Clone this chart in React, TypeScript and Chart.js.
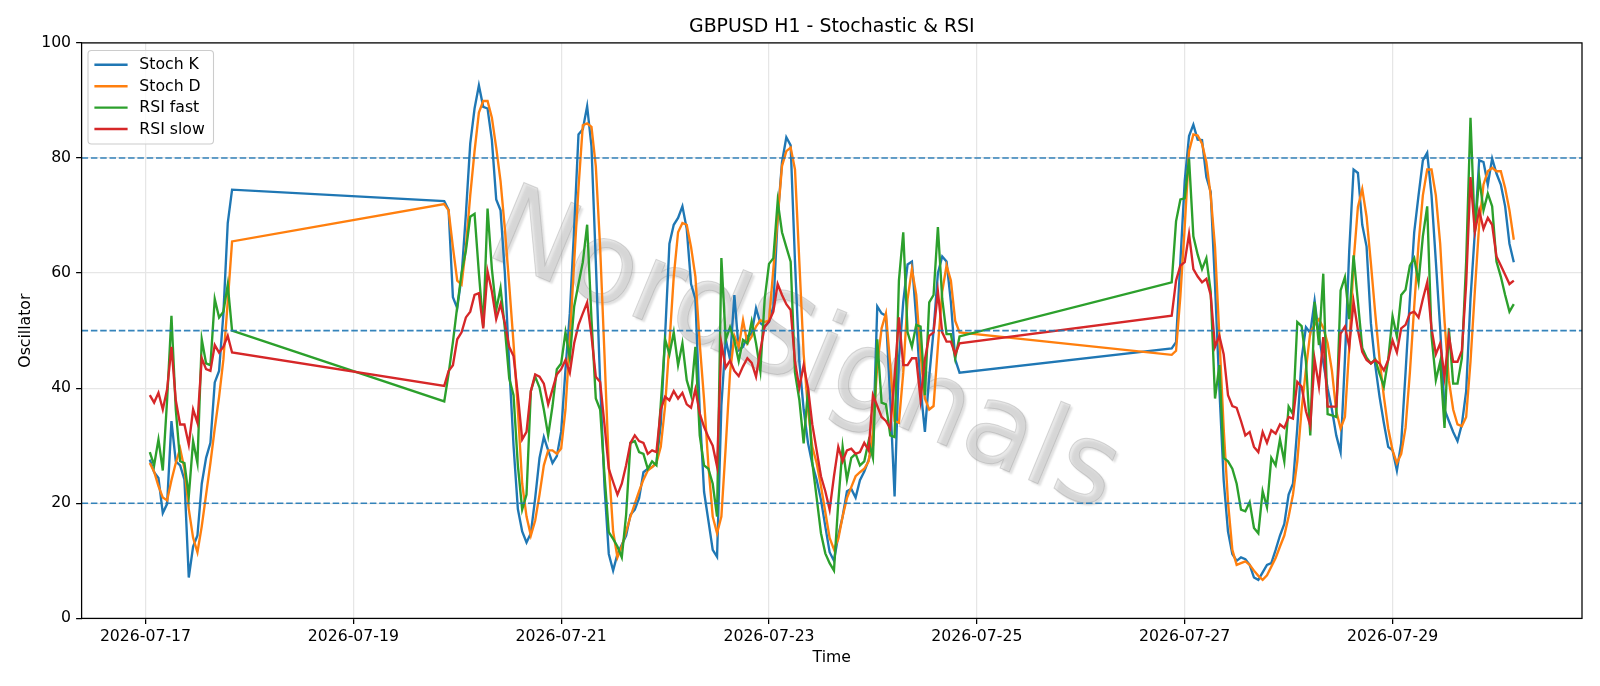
import React, { useEffect, useRef } from 'react';
import { Chart, registerables } from 'chart.js';

Chart.register(...registerables);

const TITLE = 'GBPUSD H1 - Stochastic & RSI';
const X_LABEL = 'Time';
const Y_LABEL = 'Oscillator';
const WATERMARK = 'NordSignals';
const ORIGIN = '2026-07-17 00:00';

// Hourly sessions (start time, number of hourly bars)
const SESSION_STARTS = ['2026-07-17 01:00', '2026-07-19 21:00', '2026-07-26 21:00'];
const SESSION_LENGTHS = [20, 120, 80];

const STOCH_K = [
  27.6, 25.4, 24.4, 18.3, 19.9, 34.3, 27.3, 26.6, 24.1, 7.1, 12.5, 14.4, 23.4, 27.9, 30.5, 41, 43, 53, 68.7, 74.5,
  72.5, 71, 55.8, 53.9, 59.4, 70.3, 82.5, 88.6, 92.6, 88.9, 88.6, 83.1, 72.8, 70.9, 60, 44, 30, 19, 15.1, 13.2, 14.8, 20.9, 27.9, 31.5, 29.2, 27, 28.2, 32.4, 43.3, 53, 67.7,
  84.1, 85, 89, 82, 62, 41, 23, 11.2, 8.3, 11.2, 12.8, 14.4, 18, 18.9, 20.9, 25.4, 26, 26.3, 27, 33.7, 49.1, 65.1, 68.4, 69.6, 71.6, 67.7, 58.1, 55.5,
  36, 22, 17, 11.9, 10.7, 37, 48.5, 45, 56.2, 46.6, 47.2, 49, 49.5, 53.9, 51.3, 50.7, 51.5, 54.2, 69.6, 79.3, 83.6, 82.2, 62, 44.6, 36.3, 30.5, 26.8, 24.1, 20.6, 16,
  11.5, 10, 14.4, 17.7, 22.1, 22.5, 21, 24, 25.5, 27.5, 30, 54.2, 53, 52.6, 38, 21.2, 45, 55, 61.5, 62, 52, 40, 32.4, 42, 50, 60, 62.9, 62, 55, 45, 42.7,
  46.9, 48, 62, 76, 83.8, 85.8, 83.2, 83.1, 76.7, 74.1, 58, 40, 24, 15.1, 11.2, 10, 10.6, 10.3, 9.3, 7.1, 6.7, 8, 9.3, 9.6, 11.9, 14.4,
  16.4, 21.5, 23.4, 33.1, 45.2, 50.6, 49.6, 55.2, 49.1, 44.5, 40, 36.3, 31.8, 28.9, 45, 64, 78, 77.4, 68.4, 64.6, 51.3, 44, 38.5, 33.9, 29.8, 29.2, 25.7,
  30.5, 42.7, 55.5, 67.1, 73.5, 79.6, 80.9, 73.5, 62, 50.4, 36.3, 34.3, 32.4, 30.8, 33.7, 39.5, 55.5, 67.1, 79.6, 79.3, 75.4, 79.9, 77.3, 75.4, 71.6, 65.1, 61.9,
];

const STOCH_D = [
  27, 25.5, 23, 21, 20.5, 24, 27, 29.5, 26, 19, 14, 11.5, 16, 21.5, 27, 33, 38.5, 45, 55, 65.5,
  72, 70.9, 64.5, 58.7, 58, 64.5, 73.5, 81.2, 87.9, 89.9, 89.9, 87, 81.8, 76, 67.7, 58, 47.8, 36.3, 23.4, 17.7, 14.4, 17, 21.5, 26.6, 29.2, 29.2, 28.6, 29.5, 36.3, 48.5, 61.9,
  74.8, 85.7, 86, 85.4, 78.6, 64.5, 45.9, 26.6, 15.1, 10.6, 12.5, 15.1, 17.7, 19.9, 22.1, 24.1, 25.7, 26.3, 27, 29.8, 36.9, 47.8, 59.4, 67.1, 68.7, 68.4, 64.5, 59.4,
  47.8, 38, 26.6, 17.7, 14.8, 17.7, 29.8, 42.7, 49.1, 47.2, 51.8, 47.8, 49, 50.7, 51.8, 51.5, 51.8, 60.7, 69.6, 78.6, 81.2, 81.8, 78, 62, 45.9, 36.3, 29.8, 27, 23, 18.5,
  14, 12, 13.8, 17.7, 20.9, 22.8, 24.7, 25.4, 26, 27.3, 32.4, 44, 50.4, 53, 44, 34.3, 34, 42.7, 55.5, 60.7, 56.2, 45.9, 38.2, 36.3, 36.9, 47.2, 56.8, 61.3, 58.7, 51.7, 49.7,
  45.8, 46.5, 56, 68, 81.2, 84.1, 83.9, 82.5, 79.3, 73.5, 64.5, 49.1, 33, 20.2, 11.9, 9.3, 9.6, 9.9, 9.3, 8.3, 7.4, 6.7, 7.5, 9, 10.5, 12.5,
  14.4, 17.7, 21.5, 27.3, 36.3, 43.3, 49.7, 51, 52, 50.5, 47.8, 43, 36, 33, 35, 47, 62, 71.5, 74.6, 69.8, 61.7, 53, 45, 38.5, 33, 29.2, 27,
  28.6, 33.1, 42.7, 54.2, 65.1, 73.5, 78, 78, 73.5, 65.1, 51.7, 41.4, 36.3, 33.7, 33.4, 35, 44.6, 56.8, 68.4, 75.4, 77.7, 78.3, 77.7, 77.7, 74.8, 70.9, 65.8,
];

const RSI_FAST = [
  28.9, 26.6, 31.1, 25.7, 38, 52.6, 36.3, 27.3, 27, 21.2, 30.8, 27, 48.5, 44.3, 44, 55.5, 52.3, 53.3, 58, 50,
  37.7, 42.5, 48, 54.2, 60, 63.9, 69.8, 70.3, 60, 50.7, 71.2, 60.7, 53.6, 57.4, 50.4, 41.7, 38.8, 26.6, 18.9, 21.5, 39.5, 42, 40.1, 36.3, 31.8, 36.9, 43.3, 44.3, 49.7, 45.2, 54.2,
  58.1, 61.9, 68.4, 52, 38.2, 36.3, 25, 15, 13.8, 12.5, 10.6, 18, 30.5, 30.8, 28.9, 28.6, 26, 27.3, 26.6, 37.2, 48.5, 45.9, 49.7, 44, 47.8, 41.4, 38.8, 47.2,
  31.8, 26.6, 26, 23.4, 17.7, 62.6, 48.4, 50.6, 48.3, 44.7, 48.4, 47.8, 51.6, 47.8, 43, 55.5, 61.6, 62.6, 72.5, 67.1, 64.5, 62, 42.7, 38, 30.4, 39.7, 27, 21, 14.8, 11.3,
  9.6, 8.3, 20.2, 29.8, 24.1, 27.9, 28.6, 26.6, 27.3, 30.8, 27.9, 48.5, 37.5, 37.2, 31.8, 31.5, 58.7, 67.1, 49.7, 47.2, 51, 50.7, 38.8, 54.9, 56.2, 68, 55.5, 49.4, 49.4, 45.2, 49,
  58.4, 69, 72.8, 73, 79.9, 66.4, 63.2, 60.7, 62.6, 56.8, 38.2, 44, 27.9, 27.3, 26, 23.4, 18.9, 18.6, 20.2, 15.7, 14.8, 22.1, 19.3, 27.9, 26.6, 31.1,
  27.3, 36.8, 35.5, 51.5, 50.8, 44.6, 31.8, 55, 47.5, 59.9, 35.5, 35.3, 35, 57, 59.3, 52, 63.1, 55, 47, 45.3, 44.3, 45, 42.5, 40.3, 45, 52.5, 49,
  56.2, 57.1, 61.3, 62.6, 58.4, 66.4, 71.6, 49.1, 41.4, 44.6, 33.1, 50.4, 40.8, 40.8, 45.2, 62, 87, 67.1, 76.7, 70.9, 73.8, 71.6, 62, 59.4, 56.2, 53.3, 54.6,
];

const RSI_SLOW = [
  38.8, 37.5, 39.2, 36.3, 39.8, 47.2, 37.9, 33.7, 33.7, 30.2, 36.3, 34, 45.2, 43.3, 43, 47.5, 46.2, 47.2, 49.1, 46.2,
  40.4, 43, 44, 48.5, 49.7, 52.3, 53.3, 56.2, 56.5, 50.4, 60.3, 56.8, 52, 54.6, 51.3, 47.2, 45.6, 38.8, 31.1, 32.4, 39.5, 42.4, 42, 40.8, 37.2, 39.8, 42.4, 43.3, 44.9, 42.7, 47.8,
  51, 53, 54.9, 49.1, 42, 41.1, 33.7, 26, 23.7, 21.5, 23.4, 26.6, 30.5, 31.8, 30.8, 30.5, 28.6, 29.2, 28.9, 36.3, 38.5, 37.9, 39.5, 38.2, 39.2, 37.2, 36.6, 39.8,
  35.6, 33.3, 31.5, 30, 26.4, 47.8, 43.6, 44.8, 43, 42.1, 43.8, 45.2, 44.4, 42, 46.6, 50.7, 51.6, 53.3, 58.1, 56.2, 54.6, 53.6, 44.6, 40.1, 44, 40.1, 33.7, 29.2, 24.7, 22.1,
  18.9, 24.7, 29.8, 27.3, 29.2, 29.5, 28.6, 28.9, 30.5, 29.2, 38.8, 36.9, 35, 34.3, 33, 42, 52.3, 44, 44, 45.2, 45.2, 38, 45, 49.1, 49.7, 56.8, 49.7, 48.1, 48.1, 45.9, 47.8,
  52.6, 58.7, 61.3, 61.9, 66.8, 60.7, 59.4, 58.4, 59, 56.2, 47.2, 49.1, 45.9, 38.8, 36.9, 36.6, 34.3, 31.8, 32.4, 29.8, 28.9, 32.4, 30.5, 32.7, 32.1, 33.7,
  33.1, 35, 34.7, 41.1, 40.3, 36, 33.5, 45, 40.3, 48.9, 36.8, 36.8, 36.8, 49.5, 50.7, 47.2, 55, 50.1, 46.3, 44.9, 44.3, 44.9, 44.3, 43.1, 44.9, 48.3, 46.2,
  50.4, 51, 53, 53.3, 52.3, 55.5, 58.4, 50.4, 45.9, 47.8, 42, 49.1, 44.6, 44.6, 46.5, 58.1, 76.7, 67.1, 70.9, 67.7, 69.6, 68.4, 62.9, 61.3, 59.7, 58.1, 58.7,
];

const SERIES_LABELS = ['Stoch K', 'Stoch D', 'RSI fast', 'RSI slow'];
const SERIES_COLORS = ['#1f77b4', '#ff7f0e', '#2ca02c', '#d62728'];
const LEVELS = [20, 50, 80];
const Y_TICKS = [0, 20, 40, 60, 80, 100];
const X_TICK_LABELS = ['2026-07-17', '2026-07-19', '2026-07-21', '2026-07-23', '2026-07-25', '2026-07-27', '2026-07-29'];

const FONT = '"DejaVu Sans", "Liberation Sans", sans-serif';

function hoursFromOrigin(s: string): number {
  const parse = (t: string) => {
    const [d, hm] = t.split(' ');
    const [y, m, day] = d.split('-').map(Number);
    const [hh, mm] = (hm || '00:00').split(':').map(Number);
    return Date.UTC(y, m - 1, day, hh, mm);
  };
  return (parse(s) - parse(ORIGIN)) / 3600000;
}

function buildTimes(): number[] {
  const out: number[] = [];
  SESSION_STARTS.forEach((s, i) => {
    const h0 = hoursFromOrigin(s);
    for (let k = 0; k < SESSION_LENGTHS[i]; k++) out.push(h0 + k);
  });
  return out;
}

export default function App() {
  const ref = useRef<HTMLCanvasElement | null>(null);

  useEffect(() => {
    document.body.style.margin = '0';
    const canvas = ref.current;
    if (!canvas) return;
    const times = buildTimes();
    const seriesValues = [STOCH_K, STOCH_D, RSI_FAST, RSI_SLOW];
    const first = times[0];
    const last = times[times.length - 1];
    const span = last - first;
    const xMin = first - 0.05 * span;
    const xMax = last + 0.05 * span;
    const xTickValues = X_TICK_LABELS.map((l) => hoursFromOrigin(l + ' 00:00'));

    const decor = {
      id: 'decor',
      beforeDatasetsDraw(chart: any) {
        const { ctx, chartArea: a } = chart;
        ctx.save();
        ctx.beginPath();
        ctx.rect(a.left, a.top, a.right - a.left, a.bottom - a.top);
        ctx.clip();
        ctx.translate(803, 355);
        ctx.rotate((22.5 * Math.PI) / 180);
        ctx.font = `112px ${FONT}`;
        ctx.textAlign = 'center';
        ctx.textBaseline = 'middle';
        ctx.shadowColor = 'rgba(60,60,60,0.35)';
        ctx.shadowOffsetX = 2.5;
        ctx.shadowOffsetY = 2.5;
        ctx.shadowBlur = 2;
        ctx.fillStyle = 'rgba(205,205,205,0.45)';
        ctx.fillText(WATERMARK, 0, 0);
        ctx.shadowColor = 'transparent';
        ctx.strokeStyle = 'rgba(140,140,140,0.3)';
        ctx.lineWidth = 1;
        ctx.strokeText(WATERMARK, 0, 0);
        ctx.restore();
      },
      afterDatasetsDraw(chart: any) {
        const { ctx, chartArea: a, scales } = chart;
        const ys = scales.y;
        ctx.save();
        ctx.strokeStyle = 'rgba(31,119,180,0.9)';
        ctx.lineWidth = 1.6;
        ctx.setLineDash([6.5, 2.8]);
        LEVELS.forEach((v) => {
          const y = ys.getPixelForValue(v);
          ctx.beginPath();
          ctx.moveTo(a.left, y);
          ctx.lineTo(a.right, y);
          ctx.stroke();
        });
        ctx.setLineDash([]);
        ctx.strokeStyle = '#000';
        ctx.lineWidth = 1.26;
        ctx.strokeRect(a.left, a.top, a.right - a.left, a.bottom - a.top);

        // legend
        const bx = 88, by = 50.5, bw = 125.5, bh = 93.5, r = 3.5;
        ctx.beginPath();
        ctx.moveTo(bx + r, by);
        ctx.lineTo(bx + bw - r, by);
        ctx.quadraticCurveTo(bx + bw, by, bx + bw, by + r);
        ctx.lineTo(bx + bw, by + bh - r);
        ctx.quadraticCurveTo(bx + bw, by + bh, bx + bw - r, by + bh);
        ctx.lineTo(bx + r, by + bh);
        ctx.quadraticCurveTo(bx, by + bh, bx, by + bh - r);
        ctx.lineTo(bx, by + r);
        ctx.quadraticCurveTo(bx, by, bx + r, by);
        ctx.closePath();
        ctx.fillStyle = 'rgba(255,255,255,0.8)';
        ctx.fill();
        ctx.strokeStyle = '#cccccc';
        ctx.lineWidth = 1.1;
        ctx.stroke();
        ctx.font = `15.7px ${FONT}`;
        ctx.textBaseline = 'middle';
        ctx.textAlign = 'left';
        SERIES_LABELS.forEach((lab, i) => {
          const y = 64.8 + i * 21.4;
          ctx.strokeStyle = SERIES_COLORS[i];
          ctx.lineWidth = 2.36;
          ctx.beginPath();
          ctx.moveTo(94.4, y);
          ctx.lineTo(127.6, y);
          ctx.stroke();
          ctx.fillStyle = '#000';
          ctx.fillText(lab, 139.3, y + 0.5);
        });
        ctx.restore();
      },
      afterDraw(chart: any) {
        const { ctx, chartArea: a } = chart;
        ctx.save();
        ctx.font = `18.9px ${FONT}`;
        ctx.fillStyle = '#000';
        ctx.textAlign = 'center';
        ctx.textBaseline = 'alphabetic';
        ctx.fillText(TITLE, (a.left + a.right) / 2, 32);
        ctx.restore();
      },
    };

    const chart = new Chart(canvas, {
      type: 'line',
      data: {
        datasets: seriesValues.map((vals, i) => ({
          label: SERIES_LABELS[i],
          data: times.map((t, k) => ({ x: t, y: vals[k] })),
          borderColor: SERIES_COLORS[i],
          backgroundColor: SERIES_COLORS[i],
          borderWidth: 2.36,
          pointRadius: 0,
          tension: 0,
          fill: false,
          order: 4 - i,
        })),
      },
      options: {
        responsive: false,
        animation: false,
        devicePixelRatio: 1,
        parsing: false as any,
        normalized: true,
        layout: { padding: { left: 0, right: 18, top: 42.9, bottom: 0 } },
        plugins: { legend: { display: false }, tooltip: { enabled: false }, title: { display: false } },
        scales: {
          x: {
            type: 'linear',
            min: xMin,
            max: xMax,
            afterFit: (s: any) => { s.height = 67.6; },
            afterBuildTicks: (s: any) => { s.ticks = xTickValues.map((v) => ({ value: v })); },
            ticks: {
              autoSkip: false,
              maxRotation: 0,
              padding: 4,
              color: '#000',
              font: { family: FONT, size: 15.7 },
              callback: (_v: any, i: number) => X_TICK_LABELS[i],
            },
            grid: { color: '#e6e6e6', lineWidth: 1.26, tickColor: '#000', tickLength: 5.5, tickWidth: 1.26 },
            border: { display: false },
            title: { display: true, text: X_LABEL, color: '#000', font: { family: FONT, size: 15.7 }, padding: { top: 0, bottom: 18.4 } },
          },
          y: {
            type: 'linear',
            min: 0,
            max: 100,
            afterFit: (s: any) => { s.width = 81.6; },
            afterBuildTicks: (s: any) => { s.ticks = Y_TICKS.map((v) => ({ value: v })); },
            ticks: { padding: 5, color: '#000', font: { family: FONT, size: 15.7 } },
            grid: { color: '#e6e6e6', lineWidth: 1.26, tickColor: '#000', tickLength: 5.5, tickWidth: 1.26 },
            border: { display: false },
            title: { display: true, text: Y_LABEL, color: '#000', font: { family: FONT, size: 15.7 }, padding: { top: 16.1, bottom: 0 } },
          },
        },
      },
      plugins: [decor],
    } as any);
    return () => chart.destroy();
  }, []);

  return (
    <div style={{ width: 1600, height: 686 }}>
      <canvas ref={ref} width={1600} height={686} style={{ display: 'block' }} />
    </div>
  );
}
